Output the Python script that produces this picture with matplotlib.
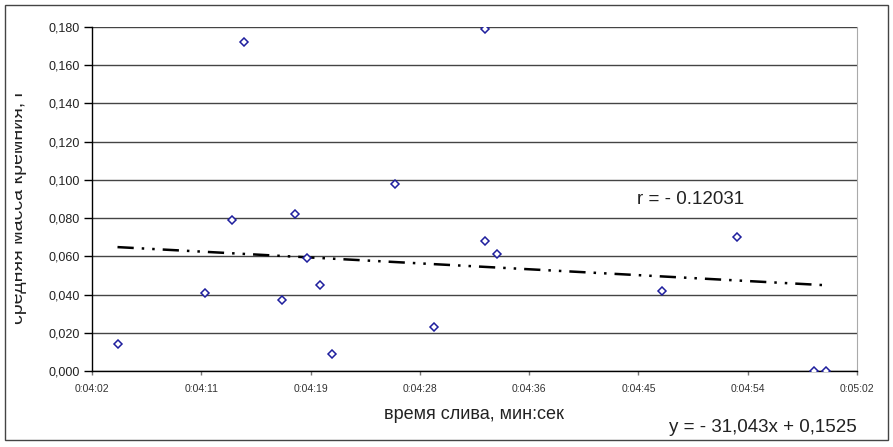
import matplotlib
matplotlib.use('Agg')
import matplotlib.pyplot as plt
import numpy as np
from matplotlib.patches import Rectangle
from matplotlib.transforms import Bbox

plt.rcParams['font.family'] = ['Liberation Sans', 'DejaVu Sans']

# time of draining, seconds (0:04:02 = 242 s)
t_sec = [244.0, 250.9, 253.0, 253.9, 256.9, 257.9, 258.9, 259.9, 260.8,
         265.8, 268.8, 272.8, 272.8, 273.8, 286.7, 292.6, 298.6, 299.6]
# average silicon mass, g
mass = [0.014, 0.041, 0.079, 0.172, 0.037, 0.082, 0.059, 0.045, 0.009,
        0.098, 0.023, 0.068, 0.179, 0.061, 0.042, 0.070, 0.000, 0.000]

# Excel trendline (x in days)
slope = -31.043
intercept = 0.1525

x_ticks = [242 + k * 60 / 7 for k in range(8)]
x_labels = ['0:04:02', '0:04:11', '0:04:19', '0:04:28',
            '0:04:36', '0:04:45', '0:04:54', '0:05:02']
y_ticks = np.arange(0, 0.181, 0.02)
y_labels = ['%.3f' % v for v in y_ticks]
y_labels = [s.replace('.', ',') for s in y_labels]

W, H = 893, 447
fig = plt.figure(figsize=(W / 100, H / 100), dpi=100)
ax = fig.add_axes([92 / W, 1 - 371 / H, (857 - 92) / W, (371 - 27) / H])

# trendline
tx = np.array([min(t_sec), max(t_sec)])
ty = slope * tx / 86400 + intercept
ax.plot(tx, ty, color='black', lw=1.8, linestyle=(0, (6.5, 3.2, 1, 3.2, 1, 3.2)),
        zorder=3)

ax.plot(t_sec, mass, linestyle='none', marker='D', markersize=4,
        markerfacecolor='white', markeredgecolor='#1f1f9e', markeredgewidth=1.1,
        zorder=4)

ax.set_xlim(242, 302)
ax.set_ylim(0, 0.18)
ax.set_xticks(x_ticks)
ax.set_xticklabels(x_labels, fontsize=7.5, color='#333333')
ax.set_yticks(y_ticks)
ax.set_yticklabels(y_labels, fontsize=9, color='#222222')
ax.yaxis.grid(True, color='#444444', lw=1)
ax.set_axisbelow(True)
ax.tick_params(axis='y', length=6, width=1, color='black', pad=3)
ax.tick_params(axis='x', length=3, width=1, color='#777777', pad=6)

ax.spines['top'].set_visible(False)
ax.spines['right'].set_color('#aaaaaa')
ax.spines['left'].set_color('black')
ax.spines['bottom'].set_color('black')
ax.spines['left'].set_linewidth(1)
ax.spines['bottom'].set_linewidth(1)

ax.set_xlabel('время слива, мин:сек', fontsize=13, color='#222222', labelpad=9)

ylab = fig.text(23 / W, 1 - 207 / H, 'средняя масса кремния, г', fontsize=14,
                color='#222222', rotation=90, rotation_mode='anchor',
                ha='center', va='baseline')
ylab.set_clip_box(Bbox.from_extents(15, 0, W, H))
ylab.set_clip_on(True)

fig.text(691 / W, 1 - 200 / H, 'r = - 0.12031', fontsize=13.5, color='#222222',
         ha='center', va='center')
fig.text(857 / W, 1 - 428 / H, 'y = - 31,043x + 0,1525', fontsize=13.5,
         color='#222222', ha='right', va='center')

border = Rectangle((5 / W, 1 - 440 / H), 883 / W, 435 / H, transform=fig.transFigure,
                   fill=False, edgecolor='#444444', lw=1)
fig.patches.append(border)

fig.savefig('out.png', dpi=100)
